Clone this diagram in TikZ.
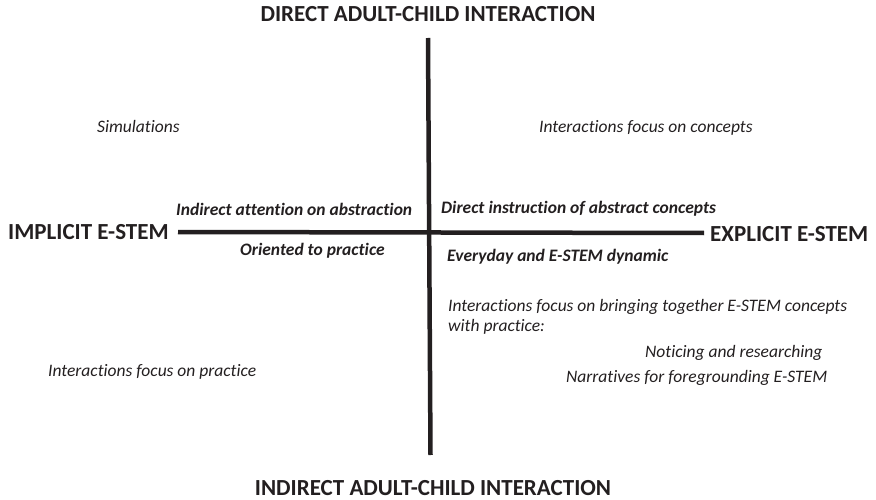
\documentclass[tikz,border=0pt]{standalone}
\usepackage{fontspec}
\setmainfont{Carlito}[Ligatures={NoCommon}]
\definecolor{ink}{HTML}{231F20}
\begin{document}
\begin{tikzpicture}[x=1pt,y=-1pt,
  axis/.style={draw=ink,line width=4.5pt},
  pole/.style={inner sep=0pt,text=ink,font=\fontsize{23}{27}\selectfont\bfseries},
  key/.style={inner sep=0pt,text=ink,anchor=base west,font=\fontsize{17.5}{21}\selectfont\bfseries\itshape},
  note/.style={inner sep=0pt,text=ink,anchor=base west,font=\fontsize{17.5}{21}\selectfont\itshape}]
\useasboundingbox (0,0) rectangle (876,500);
% axes
\coordinate (vtop) at (428,38);
\coordinate (vbot) at (430.5,455);
\coordinate (hl) at (178,232);
\coordinate (hr) at (704,233);
\draw[axis] (vtop) -- (vbot);
\draw[axis] (hl) -- (hr);
% poles
\node[pole,anchor=base] (top) at (428,22) {DIRECT ADULT-CHILD INTERACTION};
\node[pole,anchor=base] (bot) at (433,495) {INDIRECT ADULT-CHILD INTERACTION};
\node[pole,anchor=base west] (left) at (8,240) {IMPLICIT E-STEM};
\node[pole,anchor=base west] (right) at (710,241) {EXPLICIT E-STEM};
% key phrases
\node[key] (ia) at (176,215) {Indirect attention on abstraction};
\node[key] (op) at (240,255) {Oriented to practice};
\node[key] (di) at (441,214) {Direct instruction of abstract concepts};
\node[key] (ed) at (447,261) {Everyday and E-STEM dynamic};
% notes
\node[note] (sim) at (97,133) {Simulations};
\node[note] (ifc) at (539,133) {Interactions focus on concepts};
\node[note] (ifb) at (448,311) {Interactions focus on bringing together E-STEM concepts};
\node[note] (wp) at (448,331) {with practice:};
\node[note] (nr) at (645,357) {Noticing and researching};
\node[note] (nf) at (566,382) {Narratives for foregrounding E-STEM};
\node[note] (ifp) at (48,376) {Interactions focus on practice};
\end{tikzpicture}
\end{document}
